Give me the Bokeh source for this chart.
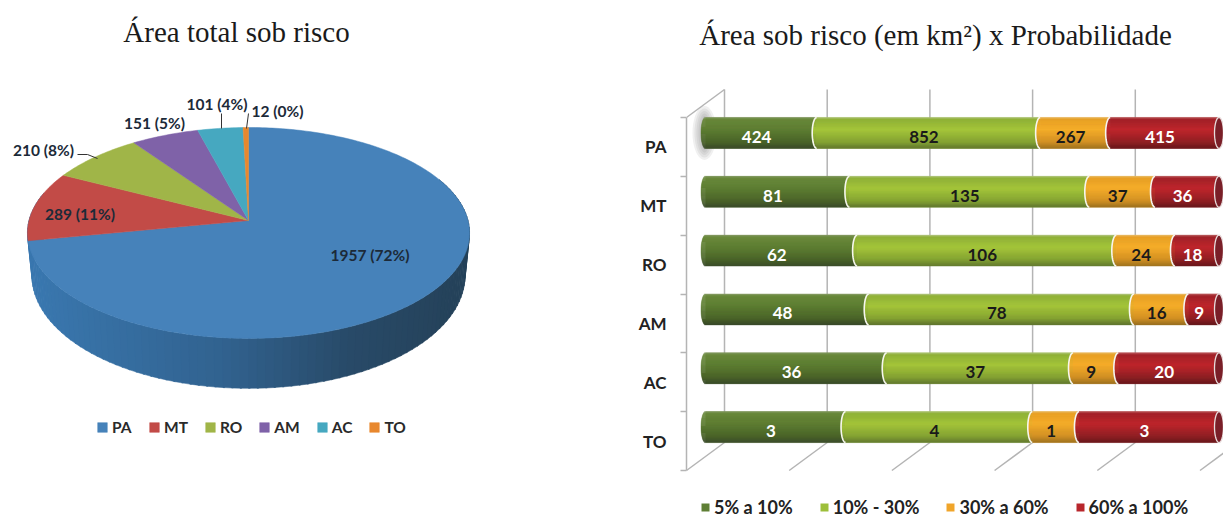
import math
from bokeh.core.properties import value
from bokeh.embed import file_html
from bokeh.layouts import row
from bokeh.models import ColumnDataSource, FixedTicker, Legend, LegendItem, Range1d
from bokeh.plotting import figure
from bokeh.resources import INLINE

# Pie data
states = ["PA", "MT", "RO", "AM", "AC", "TO"]
area_total = [1957, 289, 210, 151, 101, 12]
area_pct = [72, 11, 8, 5, 4, 0]
pie_colors = ["#4682ba", "#c24b47", "#a0b548", "#7f62a8", "#46a8c0", "#e8882e"]

# Stacked bar data
prob_classes = ["5% a 10%", "10% - 30%", "30% a 60%", "60% a 100%"]
prob_5_10 = [424, 81, 62, 48, 36, 3]
prob_10_30 = [852, 135, 106, 78, 37, 4]
prob_30_60 = [267, 37, 24, 16, 9, 1]
prob_60_100 = [415, 36, 18, 9, 20, 3]
legend_colors = ["#5f7f35", "#9dbf3a", "#f0a52a", "#b8262c"]
label_colors = ["#ffffff", "#1a1a1a", "#1a1a1a", "#ffffff"]
bar_gradients = [
    [(0, "#8a9f6a"), (.07, "#6b8a3c"), (.4, "#5e7e33"), (.8, "#4a6329"), (1, "#39492a")],
    [(0, "#b5c98a"), (.07, "#8fb038"), (.4, "#a5c63b"), (.8, "#84a133"), (1, "#5f7530")],
    [(0, "#e8c070"), (.07, "#e8a026"), (.4, "#f5ae2a"), (.8, "#d08f25"), (1, "#997020")],
    [(0, "#c06a6a"), (.07, "#a0232a"), (.4, "#c0272d"), (.8, "#8e2024"), (1, "#64181c")],
]
wall_gradient = [(0, "#3a78b0"), (.45, "#31628f"), (.75, "#284a68"), (1, "#25425a")]

LABEL_FONT = "Lato"
TITLE_FONT = "Liberation Serif"


def mix(stops, t):
    for (t0, c0), (t1, c1) in zip(stops, stops[1:]):
        if t <= t1:
            f = (t - t0) / (t1 - t0)
            rgb = [round(int(c0[i:i + 2], 16) * (1 - f) + int(c1[i:i + 2], 16) * f) for i in (1, 3, 5)]
            return "#%02x%02x%02x" % tuple(rgb)
    return stops[-1][1]


# ---------- 3D pie ----------
CX, CY, RX, RY, TILT = 248.0, 220.0, 219.5, 104.0, 0.118
LOW_CY, LOW_RX, LOW_RY = 262.0, 215.0, 111.0


def disc_point(deg, cy=CY, rx=RX, ry=RY, radius=1.0):
    a = math.radians(deg)
    u, v = radius * math.cos(a), radius * math.sin(a)
    w = 1 + TILT * v
    return CX + rx * u / w, cy - ry * v / w


pie = figure(width=611, height=518, x_range=Range1d(0, 611), y_range=Range1d(518, 0),
             x_axis_location=None, y_axis_location=None, toolbar_location=None,
             output_backend="svg", min_border=0, outline_line_color=None)
pie.grid.visible = False

# side wall, drawn as narrow panels shaded from left to right
wall_xs, wall_ys, wall_cols = [], [], []
for d in range(-196, 24, 2):
    p0, p1 = disc_point(d), disc_point(d + 2.4)
    q1, q0 = disc_point(d + 2.4, LOW_CY, LOW_RX, LOW_RY), disc_point(d, LOW_CY, LOW_RX, LOW_RY)
    wall_xs.append([p0[0], p1[0], q1[0], q0[0]])
    wall_ys.append([p0[1], p1[1], q1[1], q0[1]])
    wall_cols.append(mix(wall_gradient, min(1, max(0, (q0[0] - 30) / 420))))
pie.patches(wall_xs, wall_ys, fill_color=wall_cols, line_color=wall_cols, line_width=0.5)

# top face slices, clockwise from twelve o'clock
total = sum(area_total)
angle = 90.0
items = []
for name, val, col in zip(states, area_total, pie_colors):
    sweep = 360.0 * val / total
    n = max(2, int(sweep))
    pts = [disc_point(angle - sweep * i / n) for i in range(n + 1)]
    xs = [CX] + [q[0] for q in pts]
    ys = [CY] + [q[1] for q in pts]
    r = pie.patch(xs, ys, fill_color=col, line_color=col, line_width=0.5)
    items.append(LegendItem(label=name, renderers=[r]))
    angle -= sweep

# slice labels and leader lines
pie_label_x = [369.5, 79.5, 43, 154, 216.5, 277]
pie_label_y = [254, 213, 149, 122, 103, 110]
pie_labels = [f"{v} ({p}%)" for v, p in zip(area_total, area_pct)]
pie.text(pie_label_x, pie_label_y, text=pie_labels, text_align="center", text_baseline="middle",
         text_font=value(LABEL_FONT), text_font_style="bold", text_font_size="15.5px", text_color="#1c2a38")
pie.multi_line([[77, 87, 97], [221, 221], [248, 246]], [[154, 154, 158], [113, 128], [113, 128]],
               line_color="#333333", line_width=1)
pie.text([236], [31], text=["Área total sob risco"], text_align="center", text_baseline="middle",
         text_font=value(TITLE_FONT), text_font_size="29px", text_color="#1a1a1a")

pie_legend = Legend(items=items, orientation="horizontal", location=(96, 82), spacing=16,
                    glyph_width=12, glyph_height=12, label_standoff=4, padding=5, margin=0,
                    background_fill_alpha=0, border_line_color=None,
                    label_text_font=LABEL_FONT, label_text_font_style="bold",
                    label_text_font_size="15.5px", label_text_color="#2a2a2a")
pie.add_layout(pie_legend)

# ---------- stacked cylinders ----------
FRAME_W, FRAME_H = 612, 518
AXIS_PX = 75            # space left of the frame for the category axis
PX_X = 513.5            # pixels for the full 0-100% span
PX_Y = 58.83            # pixels per category band
FLOOR_PX = 470          # pixel row of the front floor edge
ZERO_PX = 94            # figure-relative pixel column of the 0% position
cap_rx = 4.5 / PX_X
depth_x, depth_y = 19 / PX_X, 14 / PX_Y
bar_half = 15.5 / PX_Y


def fig_x(px):
    return (px - ZERO_PX) / PX_X


def fig_y(py):
    return (FLOOR_PX - py) / PX_Y


bars = figure(width=FRAME_W, height=FRAME_H,
              x_range=Range1d(fig_x(AXIS_PX), fig_x(FRAME_W)), y_range=Range1d(fig_y(518), fig_y(0)),
              x_axis_location=None, toolbar_location=None, output_backend="svg",
              min_border=0, min_border_left=AXIS_PX, outline_line_color=None)
bars.grid.visible = False

n_states = len(states)
band_center = [n_states - 0.5 - i for i in range(n_states)]

axis = bars.yaxis[0]
axis.bounds = (0, n_states)
axis.ticker = FixedTicker(ticks=band_center, minor_ticks=list(range(n_states + 1)))
axis.major_label_overrides = {c: s for c, s in zip(band_center, states)}
axis.major_tick_out = 0
axis.major_tick_in = 0
axis.minor_tick_out = 6
axis.minor_tick_in = 0
axis.axis_line_color = "#b4b4b4"
axis.axis_line_width = 1.5
axis.minor_tick_line_color = "#b4b4b4"
axis.minor_tick_line_width = 1.5
axis.major_label_standoff = 14
axis.major_label_text_font = LABEL_FONT
axis.major_label_text_font_style = "bold"
axis.major_label_text_font_size = "17px"
axis.major_label_text_color = "#222222"

# walls and floor gridlines
grid_vals = [0, .2, .4, .6, .8, 1.0]
back_x = [g + depth_x for g in grid_vals]
front_x = [g - depth_x for g in grid_vals]
wall_top = n_states + 2 * depth_y
bars.segment(back_x, [2 * depth_y] * 6, back_x, [wall_top] * 6, line_color="#b4b4b4", line_width=1.5)
bars.segment(front_x, [0] * 6, back_x, [2 * depth_y] * 6, line_color="#b4b4b4", line_width=1.5)
bars.segment([-depth_x], [n_states], [depth_x], [wall_top], line_color="#b4b4b4", line_width=1.5)

series = [prob_5_10, prob_10_30, prob_30_60, prob_60_100]
centers = [c + depth_y for c in band_center]


def arc(x0, yc, rx=cap_rx, ry=bar_half, start=90, stop=270, n=20):
    a = [math.radians(start + (stop - start) * i / n) for i in range(n + 1)]
    return [x0 + rx * math.cos(t) for t in a], [yc + ry * math.sin(t) for t in a]


# soft shadow behind the left end of the first cylinder
for k in range(5):
    xs, ys = arc(-0.002, centers[0], (4 + 2 * k) / PX_X, (17 + 2.5 * k) / PX_Y, 0, 360, 40)
    bars.patch(xs, ys, fill_color="#777777", fill_alpha=0.11, line_color=None)

starts = [[0.0] * n_states]
for s in series:
    row_total = [sum(v[i] for v in series) for i in range(n_states)]
    starts.append([a + b / t for a, b, t in zip(starts[-1], s, row_total)])

STRIPS = 32
legend_items = []
for j, s in enumerate(series):
    base = bars.quad(left=starts[j], right=starts[j + 1],
                     bottom=[c - bar_half for c in centers], top=[c + bar_half for c in centers],
                     fill_color=legend_colors[j], line_color=None)
    legend_items.append(LegendItem(label=prob_classes[j], renderers=[base]))
    strip = dict(left=[], right=[], top=[], bottom=[], color=[])
    for i in range(n_states):
        for k in range(STRIPS):
            t = (k + 0.5) / STRIPS
            bulge = cap_rx * math.sqrt(max(0.0, 1 - (2 * t - 1) ** 2))
            strip["left"].append(starts[j][i] - bulge)
            strip["right"].append(starts[j + 1][i] - bulge)
            strip["top"].append(centers[i] + bar_half * (1 - 2 * k / STRIPS))
            strip["bottom"].append(centers[i] + bar_half * (1 - 2 * (k + 1) / STRIPS))
            strip["color"].append(mix(bar_gradients[j], t))
    bars.quad(left="left", right="right", top="top", bottom="bottom", fill_color="color",
              line_color="color", line_width=0.4, source=ColumnDataSource(strip))

# white seams between classes, plus the open end of each cylinder
seam_xs, seam_ys = [], []
for j in range(1, len(series)):
    for i in range(n_states):
        xs, ys = arc(starts[j][i], centers[i])
        seam_xs.append(xs)
        seam_ys.append(ys)
bars.multi_line(seam_xs, seam_ys, line_color="#f6f6ee", line_width=1.6)

cap_xs, cap_ys = [], []
for i in range(n_states):
    xs, ys = arc(1.0, centers[i], start=0, stop=360, n=40)
    cap_xs.append(xs)
    cap_ys.append(ys)
bars.patches(cap_xs, cap_ys, fill_color="#7a1f28", line_color="#e8dcdc", line_width=1.3)

# value labels
for j, s in enumerate(series):
    label_x = [(a + b) / 2 - cap_rx for a, b in zip(starts[j], starts[j + 1])]
    bars.text(label_x, centers, text=[str(v) for v in s], y_offset=4, text_align="center",
              text_baseline="middle", text_font=value(LABEL_FONT), text_font_style="bold",
              text_font_size="17px", text_color=label_colors[j])

bars.text([fig_x(324)], [fig_y(34)], text=["Área sob risco (em km²) x Probabilidade"],
          text_align="center", text_baseline="middle", text_font=value(TITLE_FONT),
          text_font_size="29px", text_color="#1a1a1a")

bar_legend = Legend(items=legend_items, orientation="horizontal", location=(14, 0), spacing=26,
                    glyph_width=10, glyph_height=10, label_standoff=4, padding=5, margin=0,
                    background_fill_alpha=0, border_line_color=None,
                    label_text_font=LABEL_FONT, label_text_font_style="bold",
                    label_text_font_size="18px", label_text_color="#222222")
bars.add_layout(bar_legend)

page = row(pie, bars)
open("out.html", "w").write(file_html(page, INLINE))
